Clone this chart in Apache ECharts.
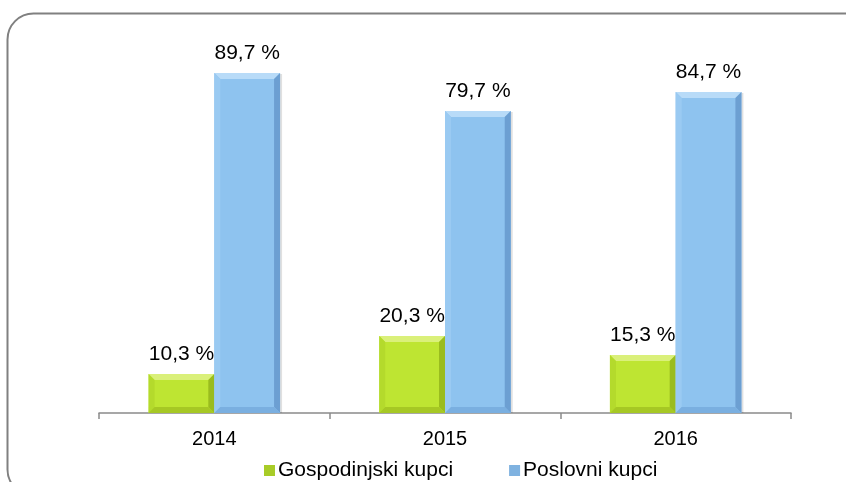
<!DOCTYPE html>
<html>
<head>
<meta charset="utf-8">
<script src="https://cdn.jsdelivr.net/npm/echarts@6/dist/echarts.min.js"></script>
<style>
  html, body { margin: 0; padding: 0; background: #fff; }
  #chart { width: 846px; height: 482px; }
</style>
</head>
<body>
<div id="chart"></div>
<script>
// Share of customers by year (percent)
const years = ['2014', '2015', '2016'];
const seriesNames = ['Gospodinjski kupci', 'Poslovni kupci'];
const household = [10.3, 20.3, 15.3];
const business = [89.7, 79.7, 84.7];

// Bevelled bar palettes: face, top, left, right, bottom
const palettes = [
  { face: '#BEE532', top: '#DAF07A', left: '#B4DA2C', right: '#9ABC1E', bottom: '#A6C824', legend: '#A8CC28' },
  { face: '#8EC3EF', top: '#B8DBF8', left: '#9ACAF2', right: '#6C9FD2', bottom: '#7AAFE0', legend: '#7FB2E0' }
];

const FONT = '"Liberation Sans", Arial, sans-serif';
const fmt = v => v.toFixed(1).replace('.', ',') + ' %';

function bevelBar(seriesIdx) {
  const pal = palettes[seriesIdx];
  return function (params, api) {
    const cat = api.value(0);
    const val = api.value(1);
    const bandW = api.size([1, 0])[0];
    const barW = bandW * 0.285;
    const topPt = api.coord([cat, val]);
    const basePt = api.coord([cat, 0]);
    const x0 = seriesIdx === 0 ? topPt[0] - barW : topPt[0];
    const y0 = topPt[1];
    const w = barW;
    const h = basePt[1] - topPt[1];
    const b = Math.min(6, h / 2);
    const x1 = x0 + w, y1 = y0 + h;
    return {
      type: 'group',
      children: [
        { type: 'rect', shape: { x: x0 + 2, y: y0 + 1, width: w, height: h - 1 },
          style: { fill: 'rgba(0,0,0,0.12)' } },
        { type: 'rect', shape: { x: x0, y: y0, width: w, height: h }, style: { fill: pal.face } },
        { type: 'polygon', shape: { points: [[x0, y0], [x1, y0], [x1 - b, y0 + b], [x0 + b, y0 + b]] },
          style: { fill: pal.top } },
        { type: 'polygon', shape: { points: [[x0, y0], [x0 + b, y0 + b], [x0 + b, y1 - b], [x0, y1]] },
          style: { fill: pal.left } },
        { type: 'polygon', shape: { points: [[x1, y0], [x1, y1], [x1 - b, y1 - b], [x1 - b, y0 + b]] },
          style: { fill: pal.right } },
        { type: 'polygon', shape: { points: [[x0, y1], [x0 + b, y1 - b], [x1 - b, y1 - b], [x1, y1]] },
          style: { fill: pal.bottom } },
        { type: 'text', style: { text: fmt(val), x: x0 + w / 2, y: y0 - 20,
            align: 'center', verticalAlign: 'middle',
            font: '21px ' + FONT, fill: '#000' } }
      ]
    };
  };
}

const chart = echarts.init(document.getElementById('chart'), null, { renderer: 'canvas' });
chart.setOption({
  animation: false,
  graphic: [{
    type: 'rect', silent: true, z: -10,
    shape: { x: 7.5, y: 13.5, width: 862, height: 482, r: 26 },
    style: { fill: 'none', stroke: '#808080', lineWidth: 2 }
  }],
  grid: { left: 99, right: 55, top: 34, bottom: 69 },
  xAxis: {
    type: 'category',
    data: years,
    axisLine: { lineStyle: { color: '#8a8a8a', width: 1.5 } },
    axisTick: { show: true, length: 6, lineStyle: { color: '#8a8a8a', width: 1.5 } },
    axisLabel: { color: '#000', fontSize: 20, margin: 16, fontFamily: FONT }
  },
  yAxis: { type: 'value', min: 0, max: 100, show: false },
  legend: {
    left: 259, top: 455,
    itemWidth: 11, itemHeight: 11, itemGap: 56,
    icon: 'rect',
    textStyle: { color: '#000', fontSize: 21, fontFamily: FONT, padding: [0, 0, 0, -2] },
    data: [
      { name: seriesNames[0], itemStyle: { color: palettes[0].legend } },
      { name: seriesNames[1], itemStyle: { color: palettes[1].legend } }
    ]
  },
  series: [
    { name: seriesNames[0], type: 'custom', renderItem: bevelBar(0),
      itemStyle: { color: palettes[0].legend },
      data: household.map((v, i) => [i, v]) },
    { name: seriesNames[1], type: 'custom', renderItem: bevelBar(1),
      itemStyle: { color: palettes[1].legend },
      data: business.map((v, i) => [i, v]) }
  ]
});
</script>
</body>
</html>
